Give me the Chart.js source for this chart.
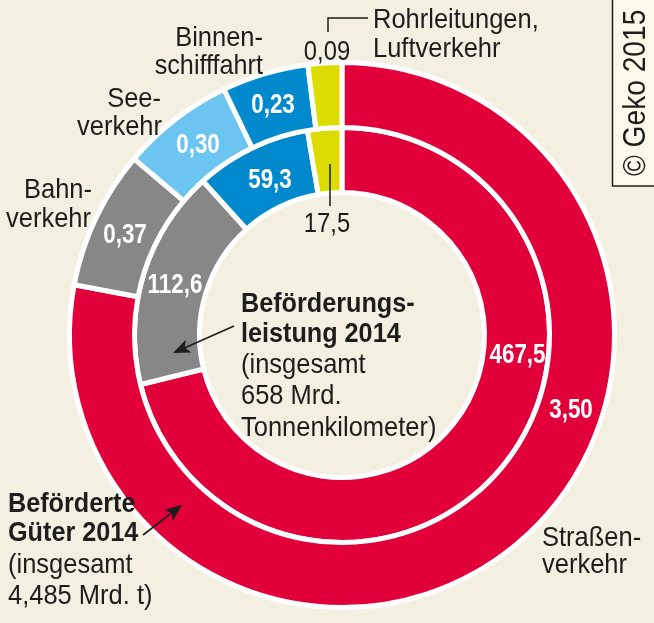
<!DOCTYPE html>
<html>
<head>
<meta charset="utf-8">
<style>
    html, body { margin: 0; padding: 0; background: #f3f0e1; }
    #wrap { width: 654px; height: 623px; position: relative; }
</style>
</head>
<body>
<div id="wrap"><canvas id="chart" width="654" height="623"></canvas></div>
<script src="https://cdn.jsdelivr.net/npm/chart.js@4"></script>
<script>
let categories = ["Straßenverkehr", "Bahnverkehr", "Seeverkehr", "Binnenschifffahrt", "Rohrleitungen, Luftverkehr"]
let tonnes = [3.50, 0.37, 0.30, 0.23, 0.09]
let tonneKm = [467.5, 112.6, 0, 59.3, 17.5]
let colors = ["#e2003a", "#878787", "#6cc5f0", "#0089cc", "#dcdc00"]

let FONT = '"Liberation Sans", sans-serif'
let INK = "#1d1d1b"

function fmt(v, digits) {
    return v.toFixed(digits).replace(".", ",")
}

// text, x, baseline y
let whiteLabels = [
    [fmt(tonnes[0], 2), 571, 418],
    [fmt(tonnes[1], 2), 125, 243],
    [fmt(tonnes[2], 2), 198, 153],
    [fmt(tonnes[3], 2), 273, 113],
    [fmt(tonneKm[0], 1), 517.5, 363],
    [fmt(tonneKm[1], 1), 175, 293],
    [fmt(tonneKm[3], 1), 270, 188]
]

// text, x, baseline y, align, squeeze
let darkLabels = [
    ["Binnen-", 263, 46, "right", 0.91],
    ["schifffahrt", 263, 74, "right", 0.9],
    ["See-", 161, 107, "right", 0.91],
    ["verkehr", 162, 135, "right", 0.91],
    ["Bahn-", 92, 198, "right", 0.91],
    ["verkehr", 91, 227, "right", 0.91],
    [fmt(tonnes[4], 2), 327, 60, "center", 0.85],
    [fmt(tonneKm[4], 1), 327, 232, "center", 0.85],
    ["Rohrleitungen,", 373, 28, "left", 0.91],
    ["Luftverkehr", 373, 57, "left", 0.91],
    ["Straßen-", 542, 546, "left", 0.91],
    ["verkehr", 542, 573, "left", 0.91],
    ["(insgesamt", 241, 373, "left", 0.91],
    ["658 Mrd.", 241, 404, "left", 0.91],
    ["Tonnenkilometer)", 241, 436, "left", 0.91],
    ["(insgesamt", 8, 573, "left", 0.91],
    ["4,485 Mrd. t)", 8, 604, "left", 0.91]
]

let boldLabels = [
    ["Beförderungs-", 241, 312],
    ["leistung 2014", 241, 342],
    ["Beförderte", 8, 512],
    ["Güter 2014", 8, 541]
]

// no narrow font installed, so squeeze the text sideways
function squeezed(ctx, text, x, y, sx) {
    ctx.save()
    ctx.translate(x, y)
    ctx.scale(sx, 1)
    ctx.fillText(text, 0, 0)
    ctx.restore()
}

function arrow(ctx, x1, y1, x2, y2) {
    let a = Math.atan2(y2 - y1, x2 - x1)
    ctx.strokeStyle = INK
    ctx.fillStyle = INK
    ctx.lineWidth = 1.6
    ctx.beginPath()
    ctx.moveTo(x1, y1)
    ctx.lineTo(x2 - 10 * Math.cos(a), y2 - 10 * Math.sin(a))
    ctx.stroke()
    ctx.save()
    ctx.translate(x2, y2)
    ctx.rotate(a)
    ctx.beginPath()
    ctx.moveTo(0, 0)
    ctx.lineTo(-17, -7)
    ctx.lineTo(-13, 0)
    ctx.lineTo(-17, 7)
    ctx.closePath()
    ctx.fill()
    ctx.restore()
}

let annotations = {
    id: "annotations",
    afterDraw(chart) {
        let ctx = chart.ctx
        ctx.save()
        ctx.textBaseline = "alphabetic"

        // copyright box
        ctx.fillStyle = "#fbf9ea"
        ctx.strokeStyle = INK
        ctx.lineWidth = 1.5
        ctx.fillRect(612.5, -2, 44, 188)
        ctx.strokeRect(612.5, -2, 44, 188)

        // leader lines
        ctx.lineWidth = 1.5
        ctx.beginPath()
        ctx.moveTo(328, 32)
        ctx.lineTo(328, 18)
        ctx.lineTo(368, 18)
        ctx.moveTo(330, 164)
        ctx.lineTo(330, 206)
        ctx.stroke()

        arrow(ctx, 234, 326, 173, 353)
        arrow(ctx, 143, 535, 182, 505)

        ctx.font = "28px " + FONT
        ctx.fillStyle = INK
        darkLabels.forEach(l => {
            ctx.textAlign = l[3]
            squeezed(ctx, l[0], l[1], l[2], l[4])
        })

        ctx.font = "bold 28px " + FONT
        ctx.textAlign = "left"
        boldLabels.forEach(l => squeezed(ctx, l[0], l[1], l[2], 0.9))

        ctx.font = "bold 27px " + FONT
        ctx.textAlign = "center"
        ctx.fillStyle = "#ffffff"
        whiteLabels.forEach(l => squeezed(ctx, l[0], l[1], l[2], 0.83))

        ctx.save()
        ctx.translate(645, 176)
        ctx.rotate(-Math.PI / 2)
        ctx.font = "32px " + FONT
        ctx.textAlign = "left"
        ctx.fillStyle = INK
        squeezed(ctx, "© Geko 2015", 0, 0, 0.88)
        ctx.restore()

        ctx.restore()
    }
}

new Chart(document.getElementById("chart"), {
    type: "doughnut",
    data: {
        labels: categories,
        datasets: [
            { label: "Beförderte Güter 2014", data: tonnes, backgroundColor: colors, borderColor: "#ffffff", borderWidth: 5 },
            { label: "Beförderungsleistung 2014", data: tonneKm, backgroundColor: colors, borderColor: "#ffffff", borderWidth: 5 }
        ]
    },
    options: {
        responsive: false,
        animation: false,
        cutout: "52.3%",
        layout: { padding: { left: 67, right: 37, top: 60, bottom: 13 } },
        plugins: { legend: { display: false }, tooltip: { enabled: false } }
    },
    plugins: [annotations]
})
</script>
</body>
</html>
